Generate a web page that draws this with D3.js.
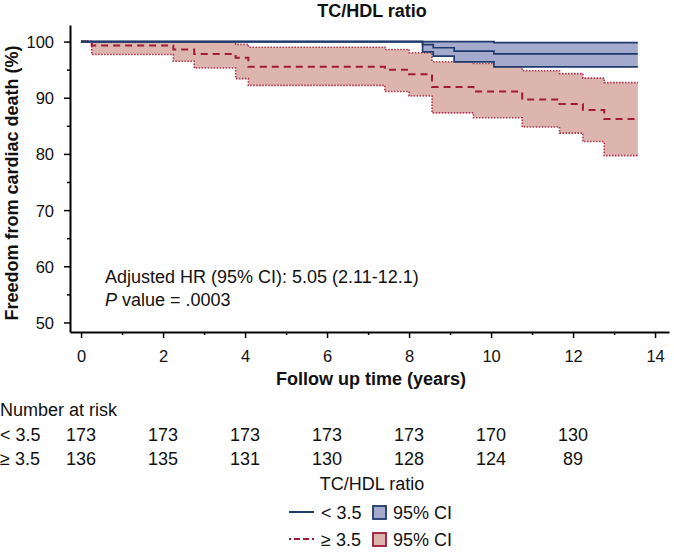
<!DOCTYPE html>
<html>
<head>
<meta charset="utf-8">
<script src="https://cdn.jsdelivr.net/npm/d3@7"></script>
<style>
  html, body { margin: 0; padding: 0; background: #fff; }
  svg { display: block; font-family: "Liberation Sans", Arial, Helvetica, sans-serif; }
</style>
</head>
<body>
<svg id="chart" width="674" height="552"></svg>
<script>
// ---------------- DATA ----------------
const chartTitle = "TC/HDL ratio";
const groups = ["< 3.5", "\u2265 3.5"];

// TC/HDL < 3.5 (blue)
const lowTimes = [0, 8.33, 8.59, 9.10, 10.07, 13.58];
const lowSurv  = [100, 99.46, 98.9, 98.3, 97.8, 97.8];
const lowUpper = [100, 100, 100, 100, 99.8, 99.8];
const lowLower = [100, 98.15, 97.4, 96.4, 95.5, 95.5];

// TC/HDL >= 3.5 (red)
const highTimes = [0, 0.26, 2.25, 2.76, 3.77, 4.08, 7.41, 8.00, 8.56, 9.57, 10.76, 11.67, 12.24, 12.76, 13.58];
const highSurv  = [100, 99.3, 98.6, 97.8, 97.1, 95.5, 95.0, 94.2, 91.9, 91.1, 89.7, 88.9, 87.8, 86.2, 86.2];
const highUpper = [100, 99.9, 99.9, 99.9, 99.5, 99.0, 98.6, 98.0, 96.4, 96.1, 94.8, 94.3, 93.5, 92.7, 92.7];
const highLower = [100, 97.7, 96.5, 95.3, 93.4, 92.2, 91.1, 90.3, 87.3, 86.45, 84.8, 83.7, 82.2, 79.7, 79.7];

const xTicks = [0, 2, 4, 6, 8, 10, 12, 14];
const xMinorTicks = [1, 3, 5, 7, 9, 11, 13];
const yTicks = [50, 60, 70, 80, 90, 100];
const yMinorTicks = [55, 65, 75, 85, 95];

const riskTimes = [0, 2, 4, 6, 8, 10, 12];
const riskLow  = [173, 173, 173, 173, 173, 170, 130];
const riskHigh = [136, 135, 131, 130, 128, 124, 89];

const annotationLine1 = "Adjusted HR (95% CI): 5.05 (2.11-12.1)";
const pValueText = ".0003";

// ---------------- STYLE ----------------
const blueLine = "#1f3a6d";
const blueFill = "#a4aacb";
const redLine = "#a11a37";
const redDot = "#b0324c";
const redFill = "#dcb5ae";
const textCol = "#111";

const svg = d3.select("#chart");

const x = d3.scaleLinear().domain([-0.27, 14.34]).range([70, 669]);
const y = d3.scaleLinear().domain([48.3, 102.95]).range([332, 25]);

// ---------------- CURVES ----------------
function rows(times, a, b, c) {
  return times.map((t, i) => ({ t, s: a[i], u: b[i], l: c[i] }));
}
const lowData = rows(lowTimes, lowSurv, lowUpper, lowLower);
const highData = rows(highTimes, highSurv, highUpper, highLower);

const area = d3.area().curve(d3.curveStepAfter)
  .x(d => x(d.t)).y0(d => y(d.l)).y1(d => y(d.u));
const lineS = d3.line().curve(d3.curveStepAfter).x(d => x(d.t)).y(d => y(d.s));
const lineU = d3.line().curve(d3.curveStepAfter).x(d => x(d.t)).y(d => y(d.u));
const lineL = d3.line().curve(d3.curveStepAfter).x(d => x(d.t)).y(d => y(d.l));

const plot = svg.append("g");

// red group
plot.append("path").attr("d", area(highData)).attr("fill", redFill).attr("stroke", "none");
plot.append("path").attr("d", lineU(highData)).attr("fill", "none")
  .attr("stroke", redDot).attr("stroke-width", 1.6).attr("stroke-dasharray", "1.5,1.5");
plot.append("path").attr("d", lineL(highData)).attr("fill", "none")
  .attr("stroke", redDot).attr("stroke-width", 1.6).attr("stroke-dasharray", "1.5,1.5");
plot.append("path").attr("d", lineS(highData)).attr("fill", "none")
  .attr("stroke", redLine).attr("stroke-width", 2).attr("stroke-dasharray", "7,5");

// blue group
plot.append("path").attr("d", area(lowData)).attr("fill", blueFill).attr("stroke", "none");
[lineU, lineL, lineS].forEach(fn => {
  plot.append("path").attr("d", fn(lowData)).attr("fill", "none")
    .attr("stroke", blueLine).attr("stroke-width", 1.7);
});

// ---------------- AXES ----------------
const tickFont = 16.5;
const yAxis = d3.axisLeft(y).tickValues(yTicks).tickSize(6).tickPadding(0).tickSizeOuter(0)
  .tickFormat(d3.format("d"));
const gy = svg.append("g").attr("transform", "translate(70,0)").call(yAxis);
gy.attr("font-size", null).attr("font-family", null);
gy.select(".domain").attr("stroke", "#000").attr("stroke-width", 2);
gy.selectAll(".tick line").attr("stroke", "#000").attr("stroke-width", 1.5);
gy.selectAll(".tick text").attr("x", -16).attr("dy", "0.36em")
  .style("font-size", tickFont + "px").attr("fill", textCol);
const gym = svg.append("g").attr("transform", "translate(70,0)")
  .call(d3.axisLeft(y).tickValues(yMinorTicks).tickSize(3).tickFormat("").tickSizeOuter(0));
gym.select(".domain").remove();
gym.selectAll(".tick line").attr("stroke", "#000").attr("stroke-width", 1.5);

const xAxis = d3.axisBottom(x).tickValues(xTicks).tickSize(6).tickPadding(12).tickSizeOuter(0)
  .tickFormat(d3.format("d"));
const gx = svg.append("g").attr("transform", "translate(0,332)").call(xAxis);
gx.attr("font-size", null).attr("font-family", null);
gx.select(".domain").attr("stroke", "#000").attr("stroke-width", 2);
gx.selectAll(".tick line").attr("stroke", "#000").attr("stroke-width", 1.5);
gx.selectAll(".tick text").style("font-size", tickFont + "px").attr("fill", textCol);
const gxm = svg.append("g").attr("transform", "translate(0,332)")
  .call(d3.axisBottom(x).tickValues(xMinorTicks).tickSize(3).tickFormat("").tickSizeOuter(0));
gxm.select(".domain").remove();
gxm.selectAll(".tick line").attr("stroke", "#000").attr("stroke-width", 1.5);

// ---------------- TEXTS ----------------
svg.append("text").attr("x", 372).attr("y", 17).attr("text-anchor", "middle")
  .attr("font-size", 18).attr("font-weight", "bold").attr("fill", textCol).text(chartTitle);

svg.append("text").attr("transform", "translate(18,183) rotate(-90)").attr("text-anchor", "middle")
  .attr("font-size", 18).attr("font-weight", "bold").attr("fill", textCol)
  .text("Freedom from cardiac death (%)");

svg.append("text").attr("x", 371).attr("y", 385).attr("text-anchor", "middle")
  .attr("font-size", 18).attr("font-weight", "bold").attr("fill", textCol)
  .text("Follow up time (years)");

const annFont = 18;
svg.append("text").attr("x", 105).attr("y", 283).attr("font-size", annFont).attr("fill", textCol)
  .text(annotationLine1);
const pv = svg.append("text").attr("x", 105).attr("y", 306).attr("font-size", annFont).attr("fill", textCol);
pv.append("tspan").attr("font-style", "italic").text("P");
pv.append("tspan").text(" value = " + pValueText);

// Number at risk table
const tableFont = 18;
svg.append("text").attr("x", 0).attr("y", 416).attr("font-size", tableFont).attr("fill", textCol)
  .text("Number at risk");
const riskRows = [riskLow, riskHigh];
const rowY = [441, 465];
riskRows.forEach((vals, r) => {
  svg.append("text").attr("x", 0).attr("y", rowY[r]).attr("font-size", tableFont).attr("fill", textCol)
    .text(groups[r]);
  svg.append("g").selectAll("text").data(vals).join("text")
    .attr("x", (d, i) => x(riskTimes[i])).attr("y", rowY[r])
    .attr("text-anchor", "middle").attr("font-size", tableFont).attr("fill", textCol)
    .text(d => d);
});

// Legend
const lg = svg.append("g");
lg.append("text").attr("x", 372).attr("y", 490).attr("text-anchor", "middle")
  .attr("font-size", tableFont).attr("fill", textCol).text(chartTitle);
const legRows = [
  { y: 512, line: blueLine, dash: null, fill: blueFill, border: blueLine, label: groups[0] },
  { y: 539, line: redLine, dash: "2,3,6,3,6,3,6,3", fill: redFill, border: redLine, label: groups[1] }
];
legRows.forEach(r => {
  const ln = lg.append("line").attr("x1", 289).attr("x2", 314).attr("y1", r.y).attr("y2", r.y)
    .attr("stroke", r.line).attr("stroke-width", 2);
  if (r.dash) ln.attr("stroke-dasharray", r.dash);
  lg.append("text").attr("x", 321).attr("y", r.y + 6.5).attr("font-size", tableFont).attr("fill", textCol)
    .text(r.label);
  lg.append("rect").attr("x", 373).attr("y", r.y - 6).attr("width", 13).attr("height", 13)
    .attr("fill", r.fill).attr("stroke", r.border).attr("stroke-width", 1.8);
  lg.append("text").attr("x", 393).attr("y", r.y + 6.5).attr("font-size", tableFont).attr("fill", textCol)
    .text("95% CI");
});
</script>
</body>
</html>
